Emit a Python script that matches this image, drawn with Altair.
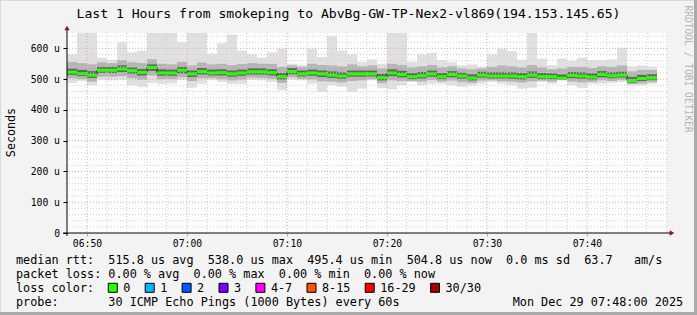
import altair as alt
import pandas as pd

FONT = "DejaVu Sans Mono"

title_text = "Last 1 Hours from smokeping to AbvBg-GW-TP-Nex2-vl869(194.153.145.65)"
y_title = "Seconds"
watermark = "RRDTOOL / TOBI OETIKER"

# one block per minute starting 06:48
median = [523, 518, 513, 529, 529, 533, 528, 522, 538, 520,
          520, 529, 517, 525, 520, 521, 517, 520, 524, 524,
          521, 508, 525, 517, 520, 517, 513, 510, 517, 517,
          517, 505, 520, 515, 508, 511, 517, 508, 515, 510,
          504, 513, 510, 510, 510, 508, 513, 508, 508, 503,
          512, 510, 507, 515, 511, 513, 495.4, 502, 504.8]
ping_max = [581, 650, 650, 570, 563, 620, 587, 593, 650, 650,
            650, 620, 650, 650, 583, 617, 645, 593, 581, 570,
            587, 599, 550, 545, 599, 572, 640, 593, 581, 556,
            564, 550, 650, 650, 556, 581, 585, 562, 555, 545,
            548, 540, 581, 599, 591, 563, 650, 567, 545, 567,
            560, 570, 562, 562, 564, 602, 541, 545, 540]
ping_min = [488, 494, 480, 498, 496, 498, 480, 475, 488, 484,
            486, 497, 472, 485, 498, 491, 485, 485, 498, 496,
            491, 464, 498, 496, 485, 458, 480, 475, 458, 469,
            496, 471, 467, 480, 491, 480, 485, 485, 480, 475,
            480, 485, 491, 485, 480, 469, 472, 491, 485, 496,
            480, 471, 485, 485, 488, 491, 480, 480, 485]
band_lo2 = [503, 500, 492, 508, 508, 510, 503, 498, 512, 500,
            500, 506, 494, 503, 503, 500, 496, 499, 505, 504,
            501, 488, 506, 501, 499, 493, 492, 489, 494, 496,
            500, 487, 496, 494, 494, 492, 497, 492, 495, 490,
            488, 495, 496, 493, 492, 489, 493, 495, 492, 497,
            492, 489, 491, 496, 494, 497, 484, 486, 490]
band_lo1 = [514, 510, 504, 520, 520, 523, 518, 512, 527, 511,
            511, 519, 507, 515, 512, 512, 508, 511, 515, 515,
            512, 499, 516, 509, 511, 507, 504, 501, 508, 508,
            509, 496, 510, 506, 500, 502, 508, 500, 506, 501,
            496, 505, 502, 502, 501, 499, 504, 500, 500, 499,
            503, 501, 499, 506, 503, 505, 489, 494, 497]
band_hi1 = [534, 530, 526, 540, 540, 545, 538, 533, 548, 532,
            531, 540, 528, 536, 531, 532, 528, 531, 535, 535,
            532, 520, 536, 528, 531, 528, 525, 522, 528, 528,
            528, 517, 532, 527, 520, 523, 528, 520, 526, 521,
            516, 524, 522, 522, 522, 520, 525, 520, 519, 515,
            523, 522, 519, 526, 522, 524, 507, 514, 516]
band_hi2 = [556, 552, 548, 555, 552, 562, 555, 552, 565, 550,
            548, 556, 545, 554, 548, 550, 546, 549, 552, 550,
            550, 540, 545, 540, 550, 546, 545, 542, 548, 542,
            545, 535, 550, 546, 538, 542, 546, 538, 542, 535,
            532, 535, 540, 545, 542, 538, 546, 538, 532, 535,
            540, 540, 536, 542, 540, 545, 525, 530, 530]

y_major = [0, 100, 200, 300, 400, 500, 600]
y_minor = [v for v in range(20, 650, 20) if v % 100 != 0]
x_major = [2, 12, 22, 32, 42, 52]
x_major_labels = ["06:50", "07:00", "07:10", "07:20", "07:30", "07:40"]
x_minor = [v for v in range(2, 61, 2) if v not in x_major]

legend_line1 = "median rtt:  515.8 us avg  538.0 us max  495.4 us min  504.8 us now  0.0 ms sd  63.7   am/s"
legend_line2 = "packet loss: 0.00 % avg  0.00 % max  0.00 % min  0.00 % now"
legend_line3 = "loss color:"
legend_line4 = "probe:       30 ICMP Echo Pings (1000 Bytes) every 60s"
date_text = "Mon Dec 29 07:48:00 2025"
loss_labels = ["0", "1", "2", "3", "4-7", "8-15", "16-29", "30/30"]
loss_colors = ["#26ff00", "#00b8ff", "#0059ff", "#7e00ff", "#ff00ff", "#ff5500", "#ff0000", "#a10000"]

NB = "\u00a0"
def nb(s):
    return s.replace(" ", NB)

# ---------- tables ----------
n = len(median)
blocks = pd.DataFrame({
    "x0": list(range(n)), "x1": [i + 1 for i in range(n)],
    "median": median, "mx": ping_max, "mn": ping_min,
    "lo2": band_lo2, "hi2": band_hi2, "lo1": band_lo1, "hi1": band_hi1,
})
blocks["g_lo"] = blocks["median"] - 5
blocks["g_hi"] = blocks["median"] + 5
step_df = pd.DataFrame({"x": list(range(n)) + [n], "y": median + [median[-1]]})

xscale = alt.Scale(domain=[0, 60], nice=False, zero=False)
yscale = alt.Scale(domain=[0, 650], nice=False, zero=True)

x_expr = "".join(f"datum.value == {v} ? '{l}' : " for v, l in zip(x_major, x_major_labels)) + "''"
xaxis = alt.Axis(values=x_major, labelExpr=x_expr, title=None, domain=False, grid=False,
                 ticks=True, tickSize=3, tickColor="#e49a9a", labelFont=FONT, labelFontSize=9.75,
                 labelColor="#000000", labelPadding=2, labelOverlap=False, labelFlush=False)
yaxis = alt.Axis(values=y_major, labelExpr=f"datum.value == 0 ? '0{NB}{NB}' : datum.value + '{NB}u'",
                 title=None, domain=False, grid=False, ticks=True, tickSize=4, tickColor="#000000",
                 labelFont=FONT, labelFontSize=9.75, labelColor="#000000", labelPadding=3.5,
                 labelOverlap=False, labelFlush=False)

def X(f):
    return alt.X(f, type="quantitative", scale=xscale, axis=xaxis)

def Y(f):
    return alt.Y(f, type="quantitative", scale=yscale, axis=yaxis)

base = alt.Chart(blocks)
smoke_outer = base.mark_rect(color="#e0e0e0").encode(x=X("x0"), x2="x1", y=Y("mn"), y2="mx")
smoke_mid = base.mark_rect(color="#b4b4b4").encode(x=X("x0"), x2="x1", y=Y("lo2"), y2="hi2")
smoke_in = base.mark_rect(color="#666666").encode(x=X("x0"), x2="x1", y=Y("lo1"), y2="hi1")

grid_minor_h = alt.Chart(pd.DataFrame({"v": y_minor})).mark_rule(
    color="#cfcfcf", strokeWidth=1, strokeDash=[1, 2]).encode(y=Y("v"))
grid_minor_v = alt.Chart(pd.DataFrame({"v": x_minor})).mark_rule(
    color="#cfcfcf", strokeWidth=1, strokeDash=[1, 2]).encode(x=X("v"))
grid_major_h = alt.Chart(pd.DataFrame({"v": y_major[1:]})).mark_rule(
    color="#eea0a0", strokeWidth=1, strokeDash=[1, 2]).encode(y=Y("v"))
grid_major_v = alt.Chart(pd.DataFrame({"v": x_major})).mark_rule(
    color="#eea0a0", strokeWidth=1, strokeDash=[1, 2]).encode(x=X("v"))

step_line = alt.Chart(step_df).mark_line(interpolate="step-after", color="#202020", strokeWidth=1).encode(
    x=X("x"), y=Y("y"))
green = base.mark_rect(color="#26ff00").encode(x=X("x0"), x2="x1", y=Y("g_lo"), y2="g_hi")

one = pd.DataFrame({"a": [0]})
# axis lines with arrows
y_axis_line = alt.Chart(one).mark_rule(color="#000000", strokeWidth=1).encode(
    x=alt.value(0), y=alt.value(-4), y2=alt.value(203))
x_axis_line = alt.Chart(one).mark_rule(color="#000000", strokeWidth=1).encode(
    x=alt.value(-4), x2=alt.value(604), y=alt.value(200))
arrow_up = alt.Chart(one).mark_point(shape="triangle-up", filled=True, size=28, color="#a01010", opacity=1).encode(
    x=alt.value(0), y=alt.value(-5))
arrow_right = alt.Chart(one).mark_point(shape="triangle-right", filled=True, size=28, color="#a01010", opacity=1).encode(
    x=alt.value(605), y=alt.value(200))

def txt(s, x, y, size=11.8, align="left", angle=0, color="#000000"):
    return alt.Chart(pd.DataFrame({"t": [s]})).mark_text(
        font=FONT, fontSize=size, align=align, baseline="middle", angle=angle, color=color
    ).encode(text="t:N", x=alt.value(x), y=alt.value(y))

OX, OY = 67, 33
texts = [
    txt(nb(title_text), 348.5 - OX, 14 - OY, size=13.1, align="center"),
    txt(y_title, 10.5 - OX, 132.5 - OY, size=11.7, align="center", angle=270),
    txt(nb(watermark), 687.5 - OX, 69 - OY, size=9.6, align="center", angle=90, color="#b4b4b4"),
    txt(nb(legend_line1), 16 - OX, 259.5 - OY),
    txt(nb(legend_line2), 16 - OX, 273.5 - OY),
    txt(nb(legend_line3), 16 - OX, 287.5 - OY),
    txt(nb(legend_line4), 16 - OX, 301.5 - OY),
    txt(nb(date_text), 512.7 - OX, 301.5 - OY),
]

# loss colour legend boxes
bx = []
cx = 108.3
for lab in loss_labels:
    bx.append(cx)
    cx = cx + 15 + len(lab) * 7.1 + 14.8
leg = pd.DataFrame({"lab": loss_labels, "col": loss_colors,
                    "bx": [b - OX for b in bx], "bx2": [b + 9 - OX for b in bx],
                    "tx": [b + 15 - OX for b in bx]})
leg_boxes = alt.Chart(leg).mark_rect(stroke="#000000", strokeWidth=1).encode(
    x=alt.X("bx:Q", scale=None), x2="bx2:Q",
    y=alt.value(283.3 - OY), y2=alt.value(292.3 - OY),
    fill=alt.Fill("col:N", scale=None))
leg_text = alt.Chart(leg).mark_text(font=FONT, fontSize=11.8, align="left", baseline="middle", color="#000000").encode(
    x=alt.X("tx:Q", scale=None), y=alt.value(287.5 - OY), text="lab:N")

# frame shading
frame_r = alt.Chart(one).mark_rect(color="#a9a9a9").encode(
    x=alt.value(694 - OX), x2=alt.value(697 - OX), y=alt.value(0 - OY), y2=alt.value(315 - OY))
frame_b = alt.Chart(one).mark_rect(color="#a9a9a9").encode(
    x=alt.value(0 - OX), x2=alt.value(697 - OX), y=alt.value(312 - OY), y2=alt.value(315 - OY))
frame_t = alt.Chart(one).mark_rect(color="#dadada").encode(
    x=alt.value(0 - OX), x2=alt.value(694 - OX), y=alt.value(0 - OY), y2=alt.value(1 - OY))
frame_l = alt.Chart(one).mark_rect(color="#dadada").encode(
    x=alt.value(0 - OX), x2=alt.value(1 - OX), y=alt.value(0 - OY), y2=alt.value(312 - OY))

chart = alt.layer(
    smoke_outer, smoke_mid, smoke_in,
    grid_minor_h, grid_minor_v, grid_major_h, grid_major_v,
    step_line, green,
    y_axis_line, x_axis_line, arrow_up, arrow_right,
    *texts, leg_boxes, leg_text,
    frame_r, frame_b, frame_t, frame_l,
).properties(
    width=600, height=200,
    autosize=alt.AutoSizeParams(type="none"),
    padding={"left": 67, "top": 33, "right": 30, "bottom": 82},
    background="#f3f3f3",
).configure_view(fill="#ffffff", stroke=None)

chart.save("out.html", embed_options={"renderer": "svg", "actions": False})
